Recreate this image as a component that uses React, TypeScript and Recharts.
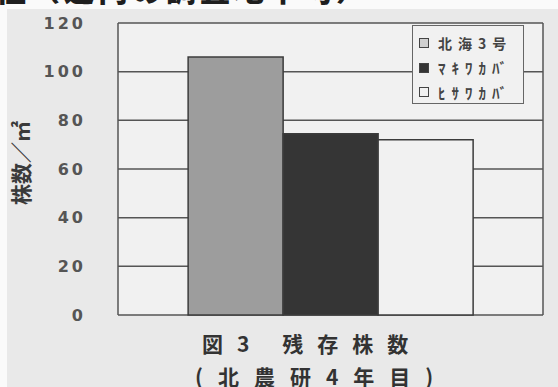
import React from 'react';
import { BarChart, Bar, XAxis, YAxis, CartesianGrid } from 'recharts';

const categories = ['残存株数'];
const seriesNames = ['北海3号', 'ﾏｷﾜｶﾊﾞ', 'ﾋｻﾜｶﾊﾞ'];
const hokkai3 = [106];
const makiwakaba = [74.5];
const hisawakaba = [72];
const yTicks = [0, 20, 40, 60, 80, 100, 120];
const seriesColors = ['#9d9d9d', '#353535', '#f1f1f1'];
const legendSwatch = ['#d0d0d0', '#353535', '#f1f1f1'];
const yLabel = '株数／㎡';
const caption1 = '図3 残存株数';
const caption2 = '(北農研4年目)';
const headerText = '性（道内の調査地平均）';

const seriesValues = [hokkai3, makiwakaba, hisawakaba];
const data = categories.map((c, i) => {
  const row: Record<string, any> = { name: c };
  seriesValues.forEach((vals, k) => {
    row['s' + k] = vals[i];
  });
  return row;
});

const FONT = '"Noto Sans CJK JP", "DejaVu Sans", sans-serif';

const YLabel = (props: any) => {
  const vb = props.viewBox || {};
  const x = (vb.x || 0) + 20;
  const y = (vb.y || 0) + (vb.height || 0) / 2 - 6;
  return (
    <text
      x={x}
      y={y}
      transform={`rotate(-90, ${x}, ${y})`}
      textAnchor="middle"
      dominantBaseline="central"
      fontFamily={FONT}
      fontWeight={700}
      fontSize={21}
      fill="#3a3a3a"
    >
      {yLabel}
    </text>
  );
};

export default function App() {
  return (
    <div style={{ position: 'fixed', left: 0, top: 0, width: 558, height: 387, background: '#fafafa', overflow: 'hidden' }}>
      <div style={{ position: 'absolute', left: 7, top: 9, right: 0, bottom: 0, background: '#e9e9e9' }} />
      <svg width={558} height={387} style={{ position: 'absolute', left: 0, top: 0 }}>
        <text x={-4} y={1} fontFamily={FONT} fontWeight={900} fontSize={30} letterSpacing={4} fill="#1e1e1e">
          {headerText}
        </text>
      </svg>
      <div style={{ position: 'absolute', left: 0, top: 0 }}>
        <BarChart
          width={558}
          height={387}
          data={data}
          margin={{ top: 23, right: 15, bottom: 72, left: 0 }}
          barCategoryGap="16.5%"
          barGap={0}
        >
          <CartesianGrid
            stroke="#555"
            strokeWidth={1.5}
            fill="#f1f1f1"
            fillOpacity={1}
            verticalCoordinatesGenerator={(p: any) => [p.offset.left, p.offset.left + p.offset.width]}
          />
          <XAxis dataKey="name" hide />
          <YAxis
            type="number"
            domain={[0, 120]}
            ticks={yTicks}
            width={118}
            axisLine={false}
            tickLine={false}
            tickSize={0}
            tickMargin={32}
            interval={0}
            tick={{ fontFamily: '"DejaVu Sans", sans-serif', fontWeight: 700, fontSize: 16, fill: '#555', letterSpacing: 3 }}
            label={<YLabel />}
          />
          {seriesNames.map((n, k) => (
            <Bar
              key={n}
              dataKey={'s' + k}
              name={n}
              fill={seriesColors[k]}
              stroke="#3c3c3c"
              strokeWidth={1.5}
              isAnimationActive={false}
            />
          ))}
        </BarChart>
      </div>
      <div
        style={{
          position: 'absolute',
          left: 412,
          top: 25,
          width: 112,
          height: 79,
          border: '1.5px solid #666',
          background: '#f1f1f1',
          boxSizing: 'border-box',
          paddingTop: 5,
        }}
      >
        {seriesNames.map((n, k) => (
          <div key={n} style={{ display: 'flex', alignItems: 'center', height: 24.5, paddingLeft: 6 }}>
            <div
              style={{
                width: 10,
                height: 10,
                background: legendSwatch[k],
                border: '1.5px solid #444',
                boxSizing: 'border-box',
                marginRight: 9,
              }}
            />
            <span
              style={{
                fontFamily: FONT,
                fontWeight: 700,
                fontSize: k === 0 ? 14 : 15,
                letterSpacing: k === 0 ? 6 : 6,
                color: '#444',
                whiteSpace: 'nowrap',
                lineHeight: '15px',
              }}
            >
              {n}
            </span>
          </div>
        ))}
      </div>
      <svg width={558} height={387} style={{ position: 'absolute', left: 0, top: 0, pointerEvents: 'none' }}>
        <text x={202} y={352} fontFamily={FONT} fontWeight={700} fontSize={21} letterSpacing={14} fill="#333">
          {caption1}
        </text>
        <text x={195} y={385} fontFamily={FONT} fontWeight={700} fontSize={21} letterSpacing={15} fill="#333">
          {caption2}
        </text>
      </svg>
    </div>
  );
}
